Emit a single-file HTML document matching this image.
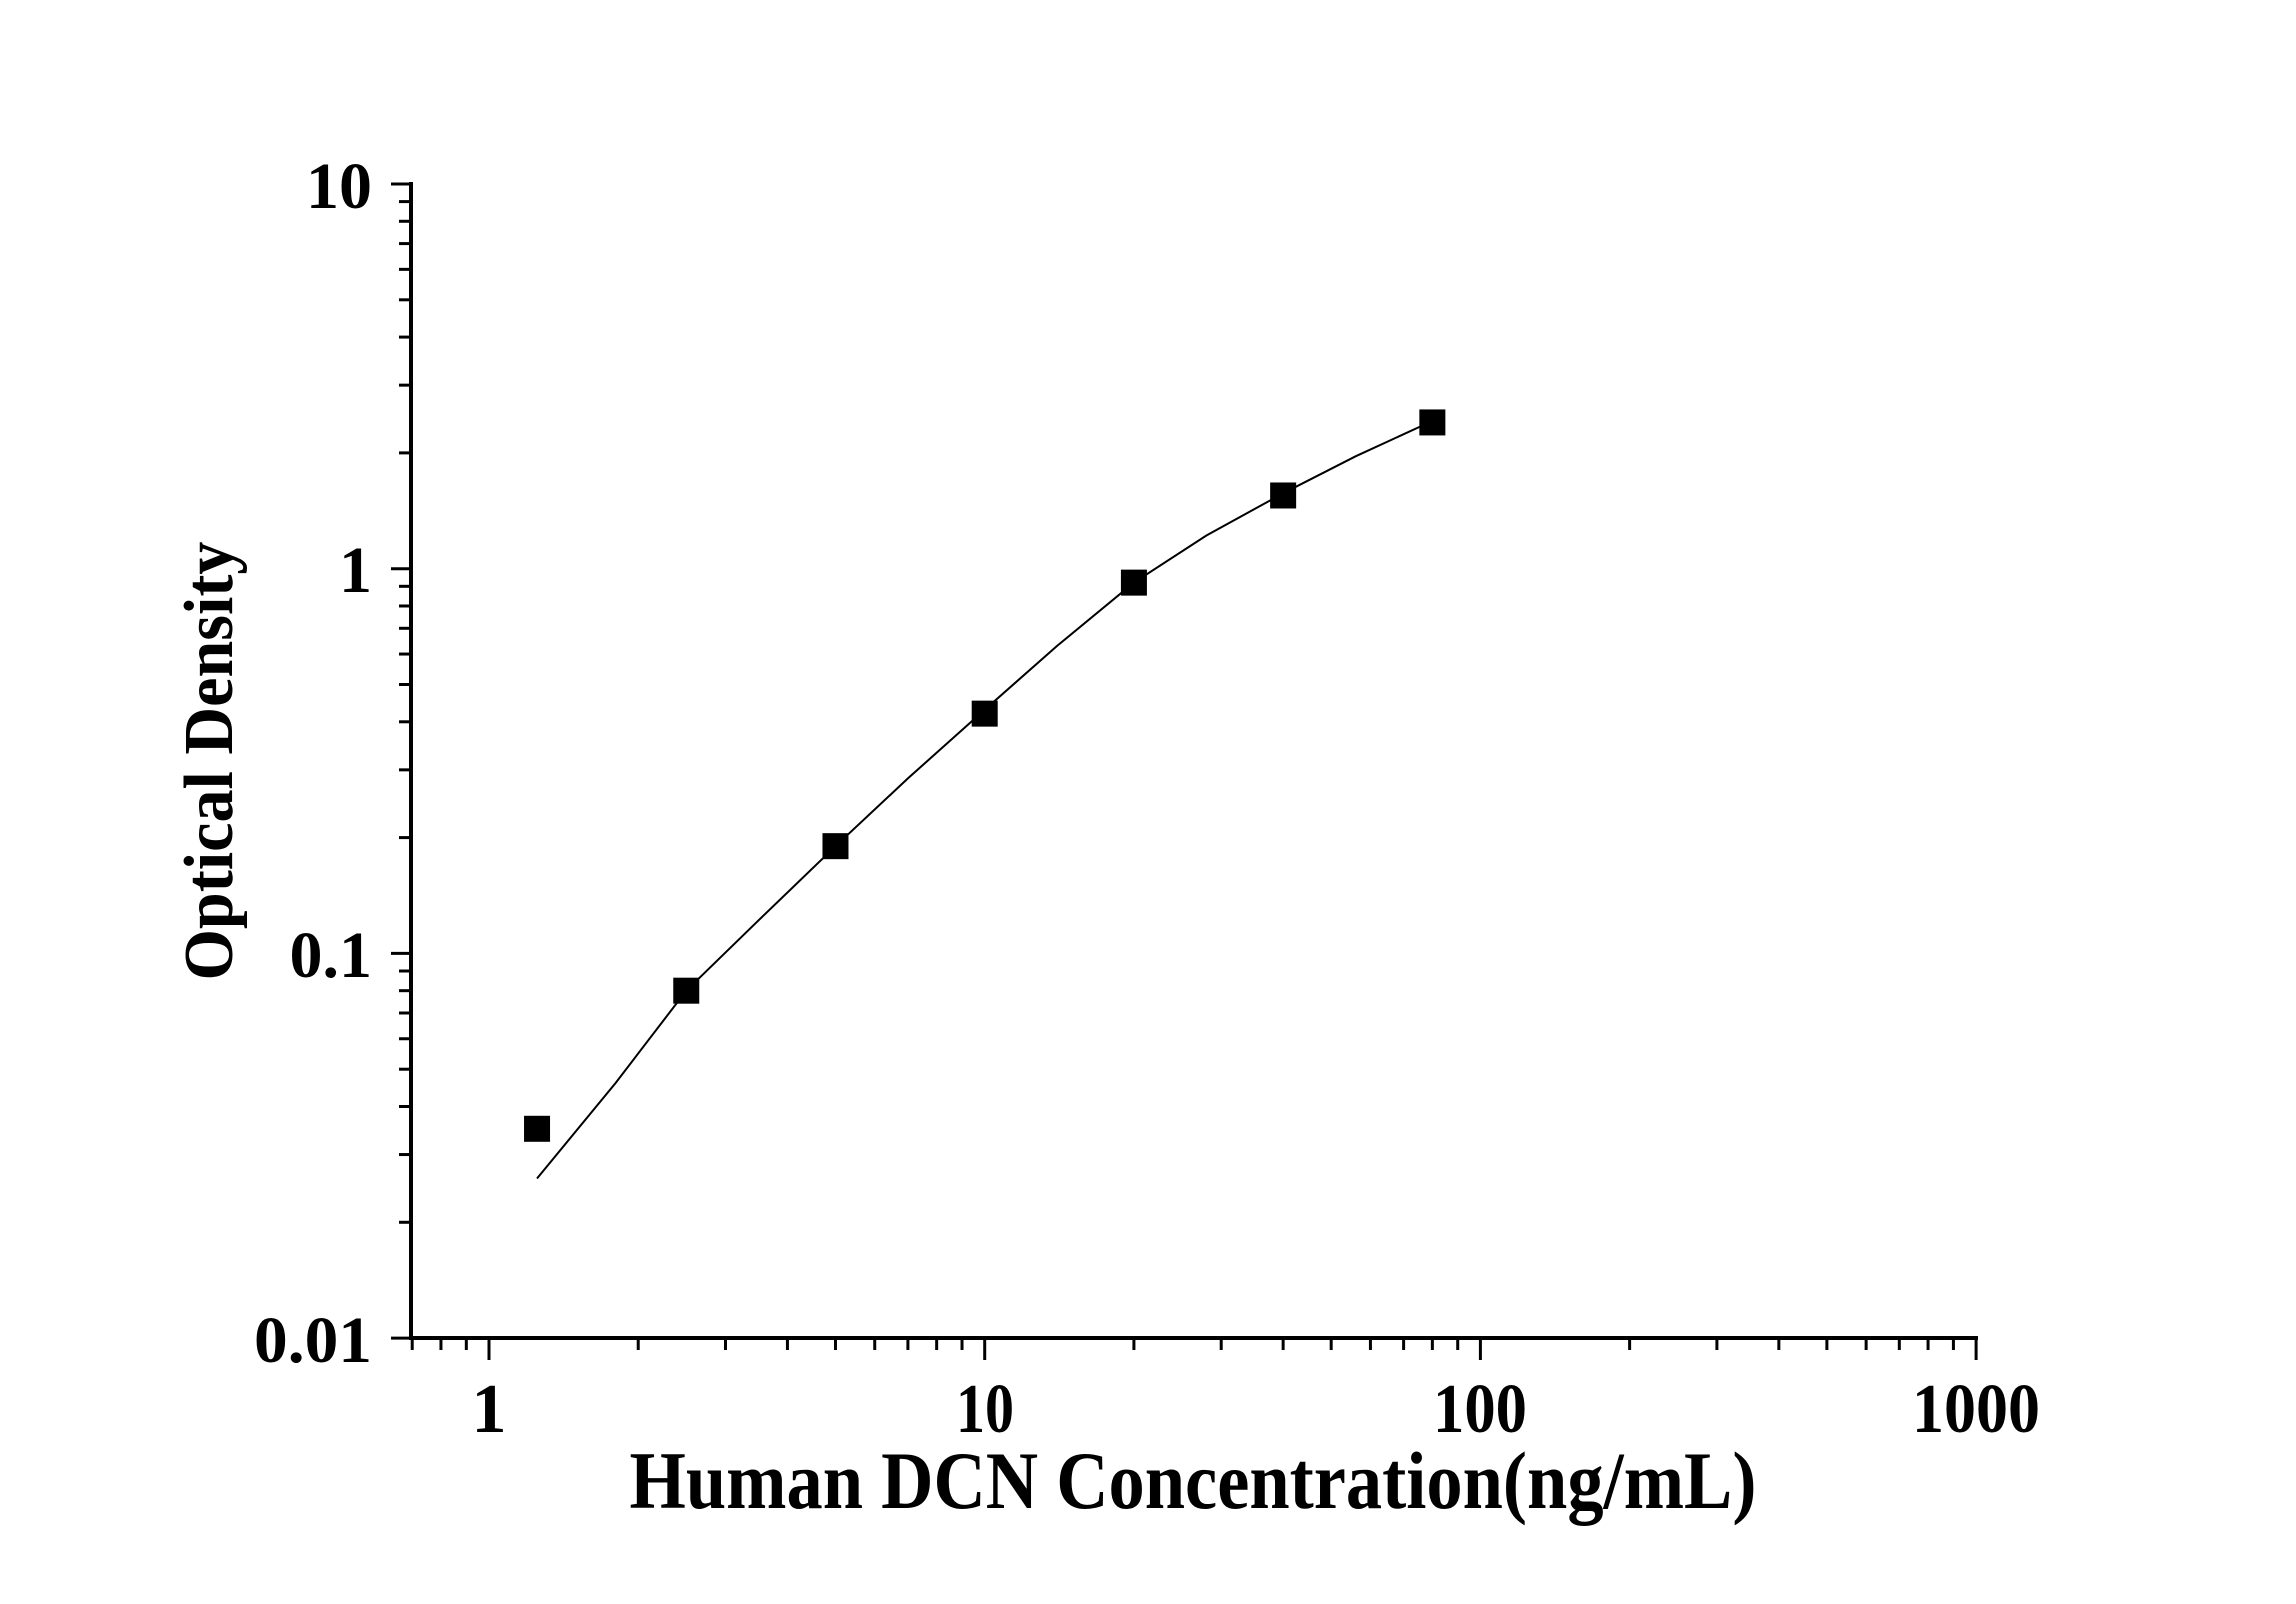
<!DOCTYPE html>
<html><head><meta charset="utf-8"><style>html,body{margin:0;padding:0;background:#fff}svg{display:block}</style></head>
<body>
<svg id="s" width="2296" height="1604" xmlns="http://www.w3.org/2000/svg" font-family="'Liberation Serif', serif" font-weight="bold">
<g id="g"></g>
<text x="372" y="208" font-size="66" text-anchor="end">10</text>
<text x="372" y="592" font-size="66" text-anchor="end">1</text>
<text x="372" y="977" font-size="66" text-anchor="end">0.1</text>
<text x="372" y="1362" font-size="66" text-anchor="end" textLength="118" lengthAdjust="spacingAndGlyphs">0.01</text>
<text x="489" y="1432" font-size="70" text-anchor="middle">1</text>
<text x="985" y="1432" font-size="70" text-anchor="middle" textLength="58" lengthAdjust="spacingAndGlyphs">10</text>
<text x="1480" y="1432" font-size="70" text-anchor="middle" textLength="94" lengthAdjust="spacingAndGlyphs">100</text>
<text x="1976" y="1432" font-size="70" text-anchor="middle" textLength="128" lengthAdjust="spacingAndGlyphs">1000</text>
<text x="1193" y="1508" font-size="82" text-anchor="middle" textLength="1127" lengthAdjust="spacingAndGlyphs">Human DCN Concentration(ng/mL)</text>
<text transform="translate(232,761) rotate(-90)" font-size="70" text-anchor="middle" textLength="439" lengthAdjust="spacingAndGlyphs">Optical Density</text>
</svg>
<script>
var g=document.getElementById('g'),h='';
function X(v){return 489+495.7*Math.log10(v)}function Y(v){return 568.7-384.7*Math.log10(v)}
h+='<line x1="411" y1="182" x2="411" y2="1340" stroke="#000" stroke-width="4"/>';
h+='<line x1="409" y1="1338" x2="1978" y2="1338" stroke="#000" stroke-width="4"/>';
for(var e=-2;e<=1;e++){for(var m=1;m<10;m++){var v=m*Math.pow(10,e);if(v>10)break;var y=Y(v);if(y<180)continue;
h+='<line x1="'+(m==1?391:399)+'" y1="'+y+'" x2="411" y2="'+y+'" stroke="#000" stroke-width="3"/>';if(e==1)break;}}
for(var e=-1;e<=3;e++){for(var m=1;m<10;m++){var v=m*Math.pow(10,e);var x=X(v);if(x<411||x>1979)continue;
h+='<line x1="'+x+'" y1="1338" x2="'+x+'" y2="'+(m==1?1360:1350)+'" stroke="#000" stroke-width="3"/>';}}
var c=[[1.25,0.026],[1.8,0.046],[2.5,0.08],[3.5,0.122],[5,0.19],[7,0.285],[10,0.43],[14,0.63],[20,0.92],[28,1.22],[40,1.57],[56,1.96],[80,2.42]];
h+='<polyline fill="none" stroke="#000" stroke-width="2" points="'+c.map(function(p){return X(p[0]).toFixed(1)+','+Y(p[1]).toFixed(1)}).join(' ')+'"/>';
var d=[[1.25,0.035],[2.5,0.08],[5,0.19],[10,0.42],[20,0.92],[40,1.55],[80,2.4]];
d.forEach(function(p){h+='<rect x="'+(X(p[0])-13)+'" y="'+(Y(p[1])-13)+'" width="26" height="26" fill="#000"/>';});
g.innerHTML=h;
</script>
</body></html>
